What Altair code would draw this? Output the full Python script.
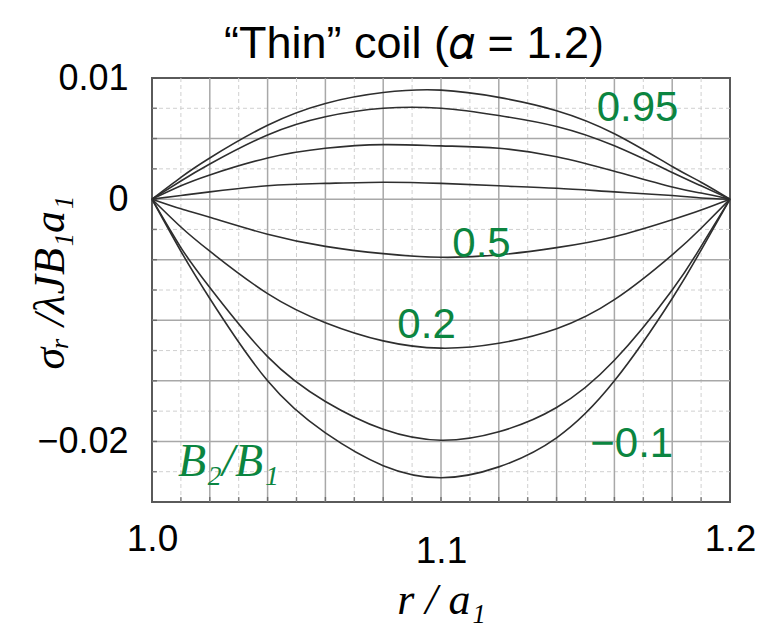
import altair as alt
import pandas as pd

# radial position r / a1 at which the curves are sampled
r_pos = [1.00, 1.01, 1.02, 1.04, 1.06, 1.08, 1.10, 1.12, 1.14, 1.16, 1.18, 1.19, 1.20]

# B2/B1 of each curve, top to bottom
b_ratio = ["0.95", "0.9", "0.8", "0.7", "0.5", "0.2", "0", "-0.1"]

# normalised radial stress sigma_r / (lambda J B1 a1) for each curve
s_095 = [0, 0.0018, 0.0034, 0.0061, 0.0079, 0.0088, 0.0090, 0.0084, 0.0073, 0.0054, 0.0027, 0.0014, 0]
s_090 = [0, 0.0015, 0.0029, 0.0053, 0.0068, 0.0075, 0.0075, 0.0069, 0.0060, 0.0044, 0.0022, 0.0011, 0]
s_080 = [0, 0.0011, 0.0020, 0.0034, 0.0042, 0.0045, 0.0044, 0.0042, 0.0035, 0.0023, 0.0010, 0.0005, 0]
s_070 = [0, 0.0003, 0.0006, 0.0011, 0.0013, 0.0014, 0.0013, 0.0011, 0.0009, 0.0006, 0.0003, 0.0001, 0]
s_050 = [0, -0.0008, -0.0015, -0.0029, -0.0039, -0.0045, -0.0048, -0.0046, -0.0040, -0.0031, -0.0017, -0.0009, 0]
s_020 = [0, -0.0023, -0.0043, -0.0078, -0.0102, -0.0117, -0.0123, -0.0119, -0.0107, -0.0083, -0.0046, -0.0024, 0]
s_000 = [0, -0.0040, -0.0073, -0.0130, -0.0167, -0.0190, -0.0199, -0.0192, -0.0172, -0.0133, -0.0075, -0.0039, 0]
s_m010 = [0, -0.0043, -0.0082, -0.0150, -0.0193, -0.0220, -0.0230, -0.0221, -0.0197, -0.0150, -0.0082, -0.0042, 0]

# curve annotations
label_text = ["0.95", "0.5", "0.2", "\u22120.1"]
label_x = [1.168, 1.114, 1.095, 1.166]
label_y = [0.0075, -0.0037, -0.0104, -0.0202]

# grid and tick positions
x_major = [1.02, 1.04, 1.06, 1.08, 1.10, 1.12, 1.14, 1.16, 1.18]
x_minor = [1.01, 1.03, 1.05, 1.07, 1.09, 1.11, 1.13, 1.15, 1.17, 1.19]
y_major = [-0.02, -0.015, -0.01, -0.005, 0.0, 0.005]
y_minor = [-0.0225, -0.0175, -0.0125, -0.0075, -0.0025, 0.0025, 0.0075]
x_ticks = [round(1.0 + 0.01 * i, 2) for i in range(21)]
y_ticks = [round(-0.025 + 0.0025 * i, 4) for i in range(15)]

chart_title = "\u201cThin\u201d coil (\U0001D6FC = 1.2)"

series = [s_095, s_090, s_080, s_070, s_050, s_020, s_000, s_m010]
rows = []
for name, vals in zip(b_ratio, series):
    for r, v in zip(r_pos, vals):
        rows.append({"r": r, "stress": v, "ratio": name})
curves = pd.DataFrame(rows)

SANS = "Liberation Sans Narrow, Liberation Sans, Arial"
SERIF = "Liberation Serif, DejaVu Serif"
GREEN = "#0b8540"

xs = alt.Scale(domain=[1.0, 1.2], nice=False, zero=False)
ys = alt.Scale(domain=[-0.025, 0.01], nice=False, zero=False)

grid_xmaj = alt.Chart(pd.DataFrame({"x": x_major})).mark_rule(
    color="#a8a8a8", strokeWidth=1.5).encode(x=alt.X("x:Q", scale=xs))
grid_xmin = alt.Chart(pd.DataFrame({"x": x_minor})).mark_rule(
    color="#d0d0d0", strokeWidth=1, strokeDash=[4, 3]).encode(x=alt.X("x:Q", scale=xs))
grid_ymaj = alt.Chart(pd.DataFrame({"y": y_major})).mark_rule(
    color="#a8a8a8", strokeWidth=1.5).encode(y=alt.Y("y:Q", scale=ys))
grid_ymin = alt.Chart(pd.DataFrame({"y": y_minor})).mark_rule(
    color="#d0d0d0", strokeWidth=1, strokeDash=[4, 3]).encode(y=alt.Y("y:Q", scale=ys))

ticks_x = alt.Chart(pd.DataFrame({"x": x_ticks, "y": [-0.025] * len(x_ticks)})).mark_tick(
    orient="vertical", size=10, thickness=1.5, color="#555", clip=True
).encode(x=alt.X("x:Q", scale=xs), y=alt.Y("y:Q", scale=ys))
ticks_y = alt.Chart(pd.DataFrame({"y": y_ticks, "x": [1.0] * len(y_ticks)})).mark_tick(
    orient="horizontal", size=10, thickness=1.5, color="#555", clip=True
).encode(x=alt.X("x:Q", scale=xs), y=alt.Y("y:Q", scale=ys))

lines = alt.Chart(curves).mark_line(
    interpolate="natural", color="#2e2e2e", strokeWidth=1.6
).encode(
    x=alt.X(
        "r:Q", scale=xs,
        axis=alt.Axis(
            values=[1.0, 1.1, 1.2], format=".1f", grid=False, ticks=False, domain=False,
            labelFlush=False, labelFont=SANS, labelFontSize=37, labelColor="black",
            labelPadding={"expr": "datum.value > 1.05 && datum.value < 1.15 ? 31 : 19"},
            title="r / a\u2081", titleFont=SERIF, titleFontStyle="italic",
            titleFontWeight="normal", titleFontSize=44, titleColor="black",
            titleX=289, titleY=111, titleBaseline="alphabetic",
        ),
    ),
    y=alt.Y(
        "stress:Q", scale=ys,
        axis=alt.Axis(
            values=[-0.02, 0.0, 0.01], grid=False, ticks=False, domain=False,
            labelFlush=False,
            labelExpr="datum.value > 0.005 ? '0.01' : (datum.value < -0.01 ? '\u22120.02' : '0')",
            labelFont=SANS, labelFontSize=36, labelColor="black", labelPadding=24,
            title="\u03c3\u1d63 /\u03bbJB\u2081a\u2081", titleFont=SERIF, titleFontStyle="italic",
            titleFontWeight="normal", titleFontSize=44, titleColor="black",
            titleX=-102, titleY=204, titleAngle=-90, titleBaseline="middle", titleAlign="center",
        ),
    ),
    detail="ratio:N",
)

labels = alt.Chart(pd.DataFrame({"x": label_x, "y": label_y, "t": label_text})).mark_text(
    font=SANS, fontSize=42, color=GREEN, align="center", baseline="middle"
).encode(x=alt.X("x:Q", scale=xs), y=alt.Y("y:Q", scale=ys), text="t:N")

ratio_name = alt.Chart(pd.DataFrame({"x": [1.009], "y": [-0.0217], "t": ["B\u2082/B\u2081"]})).mark_text(
    font=SERIF, fontSize=46, fontStyle="italic", color=GREEN, align="left", baseline="middle"
).encode(x=alt.X("x:Q", scale=xs), y=alt.Y("y:Q", scale=ys), text="t:N")

# heading above the plot frame
heading = alt.Chart(pd.DataFrame({"t": [chart_title]})).mark_text(
    font=SANS, fontSize=45, color="black", align="center", baseline="alphabetic"
).encode(x=alt.value(262), y=alt.value(-20), text="t:N")

chart = alt.layer(
    grid_xmin, grid_ymin, grid_xmaj, grid_ymaj, ticks_x, ticks_y, lines, labels, ratio_name, heading
).properties(
    width=578, height=424,
    autosize=alt.AutoSizeParams(type="none"),
    padding={"left": 152, "top": 78, "right": 27, "bottom": 125},
    background="white",
).configure_view(stroke="#5a5a5a", strokeWidth=2)

chart.save("out.html", embed_options={"renderer": "svg", "actions": False})
